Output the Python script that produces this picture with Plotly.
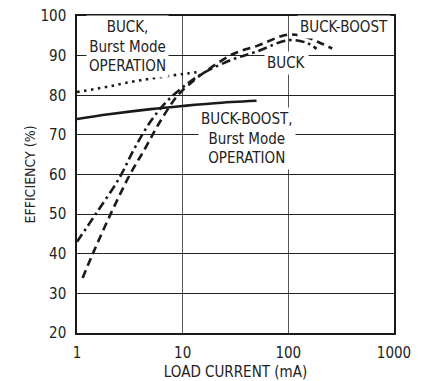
import math
import plotly.graph_objects as go

# Efficiency vs load current, four operating modes
buck_burst_i = [1, 2, 3.3, 5, 8, 11, 14.5]
buck_burst_eff = [80.8, 82.2, 83.4, 84.2, 85.0, 85.5, 85.9]

bb_burst_i = [1, 2, 5, 10, 20, 50]
bb_burst_eff = [74.0, 75.2, 76.5, 77.3, 78.0, 78.6]

buck_i = [1, 1.5, 2.5, 3.5, 5, 7, 10, 15, 30, 50, 100, 150, 185]
buck_eff = [43.0, 50.0, 59.0, 66.6, 73.5, 78.3, 82.0, 85.3, 89.1, 91.0, 93.9, 93.2, 91.7]

bb_i = [1.13, 1.41, 2.08, 3.17, 4.4, 6, 9, 12.1, 15.5, 30, 50, 100, 150, 200, 260]
bb_eff = [33.9, 40.0, 50.0, 60.0, 66.5, 73.0, 80.0, 83.2, 85.5, 90.4, 92.4, 95.3, 94.6, 93.2, 91.8]

x_ticks = [1, 10, 100, 1000]
x_tick_text = ["1", "10", "100", "1000"]
y_ticks = [20, 30, 40, 50, 60, 70, 80, 90, 100]

FONT = "DejaVu Sans Condensed, Liberation Sans, sans-serif"
INK = "#1a1a1a"
TEXT = "#222"

fig = go.Figure()
fig.add_trace(go.Scatter(x=buck_burst_i, y=buck_burst_eff, mode="lines",
                         line=dict(color=INK, width=2.6, dash="2.5px,4.5px", shape="spline")))
fig.add_trace(go.Scatter(x=bb_burst_i, y=bb_burst_eff, mode="lines",
                         line=dict(color=INK, width=2.6, shape="spline")))
fig.add_trace(go.Scatter(x=buck_i, y=buck_eff, mode="lines",
                         line=dict(color=INK, width=2.6, dash="9px,4px,2.5px,4px", shape="spline")))
fig.add_trace(go.Scatter(x=bb_i, y=bb_eff, mode="lines",
                         line=dict(color=INK, width=2.6, dash="8px,5px", shape="spline")))

label_font = dict(family=FONT, size=15, color=TEXT)
labels = [
    ("BUCK,<br>Burst Mode<br>OPERATION", 3.0, 92.2),
    ("BUCK-BOOST,<br>Burst Mode<br>OPERATION", 41, 69.2),
    ("BUCK", 96, 88.1),
    ("BUCK-BOOST", 340, 97.2),
]
for text, x, y in labels:
    fig.add_annotation(text=text, x=math.log10(x), y=y, xref="x", yref="y",
                       showarrow=False, font=label_font, bgcolor="white",
                       align="center", borderpad=2)

fig.update_xaxes(type="log", range=[0, 3], tickvals=x_ticks, ticktext=x_tick_text,
                 showgrid=True, gridcolor="#555", gridwidth=1.2,
                 showline=True, linecolor=INK, linewidth=1.5, mirror=True,
                 ticks="", ticklabelstandoff=5, automargin=False,
                 tickfont=dict(family=FONT, size=15, color=TEXT),
                 title=dict(text="LOAD CURRENT (mA)", standoff=12,
                            font=dict(family=FONT, size=15, color=TEXT)),
                 zeroline=False)
fig.update_yaxes(range=[20, 100], tickvals=y_ticks,
                 showgrid=True, gridcolor="#222", gridwidth=1.2,
                 showline=True, linecolor=INK, linewidth=1.5, mirror=True,
                 ticks="", ticklabelstandoff=6, automargin=False,
                 tickfont=dict(family=FONT, size=15, color=TEXT),
                 title=dict(text="EFFICIENCY (%)", standoff=2,
                            font=dict(family=FONT, size=14, color=TEXT)),
                 zeroline=False)

fig.update_layout(width=422, height=381, margin=dict(l=77, r=28, t=16, b=48),
                  plot_bgcolor="white", paper_bgcolor="white", showlegend=False)

fig.write_html("out.html")
